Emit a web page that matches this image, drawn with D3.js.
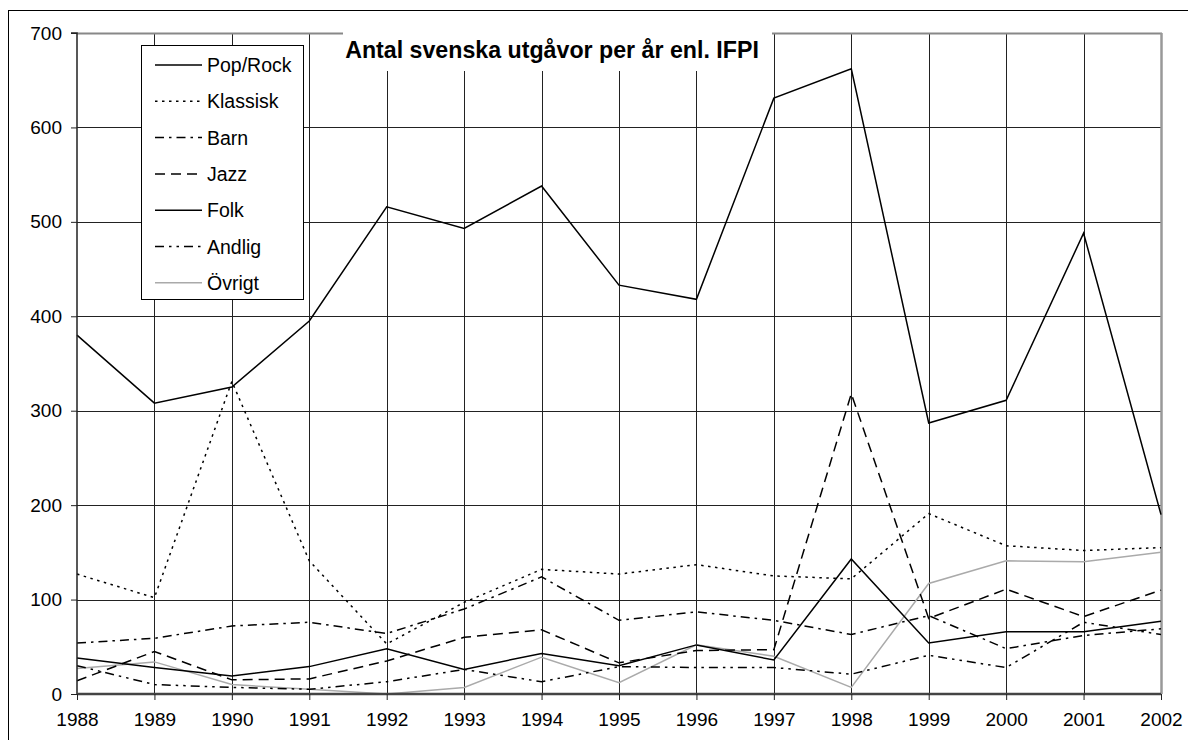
<!DOCTYPE html>
<html><head><meta charset="utf-8">
<script src="https://cdn.jsdelivr.net/npm/d3@7"></script>
<style>body{margin:0;background:#fff}svg{display:block}text{font-family:"Liberation Sans",Arial,sans-serif}</style>
</head><body>
<svg id="c" width="1188" height="740"></svg>
<script>
const years = [1988,1989,1990,1991,1992,1993,1994,1995,1996,1997,1998,1999,2000,2001,2002];
const popRock  = [380,308,325,395,516,493,538,433,418,631,662,287,311,488,190];
const klassisk = [127,102,331,141,53,97,132,127,137,125,122,191,157,152,155];
const barn     = [54,59,72,76,64,90,124,78,87,78,63,83,48,62,69];
const jazz     = [14,45,15,16,35,60,68,33,46,47,318,80,111,82,110];
const folk     = [38,28,19,29,48,26,43,30,52,36,143,54,66,66,77];
const andlig   = [30,10,7,5,13,26,13,29,28,28,21,41,28,76,63];
const ovrigt   = [27,34,10,5,0,7,39,12,52,40,7,117,141,140,150];
const seriesNames = ["Pop/Rock","Klassisk","Barn","Jazz","Folk","Andlig","Övrigt"];
const yTicks = [0,100,200,300,400,500,600,700];
const title = "Antal svenska utgåvor per år enl. IFPI";

const seriesData = [popRock,klassisk,barn,jazz,folk,andlig,ovrigt];
const styles = [
  {stroke:"#000", dash:null, w:1.5},
  {stroke:"#000", dash:"2.5,4.5", w:1.5},
  {stroke:"#000", dash:"9,5,2.5,5", w:1.5},
  {stroke:"#000", dash:"10,6", w:1.5},
  {stroke:"#000", dash:null, w:1.5},
  {stroke:"#000", dash:"9,5,2.5,5,2.5,5", w:1.5},
  {stroke:"#aaa", dash:null, w:1.5}
];
const FONT = "Liberation Sans, Arial, sans-serif";

const svg = d3.select("#c");
const L=77, R=1161, T=33, B=694;
const x = d3.scaleLinear().domain([1988,2002]).range([L,R]);
const y = d3.scaleLinear().domain([0,700]).range([B,T]);

// outer frame
svg.append("rect").attr("x",8.5).attr("y",10.5).attr("width",1200).attr("height",800)
  .attr("fill","#fff").attr("stroke","#000").attr("stroke-width",1);

// gridlines
const g = svg.append("g");
g.selectAll("line.h").data(yTicks.filter(d=>d>0 && d<700)).join("line")
  .attr("x1",L).attr("x2",R).attr("y1",d=>Math.round(y(d))+0.5).attr("y2",d=>Math.round(y(d))+0.5)
  .attr("stroke","#222").attr("stroke-width",1);
g.selectAll("line.v").data(years.slice(1,-1)).join("line")
  .attr("x1",d=>Math.round(x(d))+0.5).attr("x2",d=>Math.round(x(d))+0.5).attr("y1",T).attr("y2",B)
  .attr("stroke","#222").attr("stroke-width",1);
// plot border top/right gray
svg.append("line").attr("x1",L).attr("x2",R+1).attr("y1",T+0.5).attr("y2",T+0.5).attr("stroke","#888").attr("stroke-width",2);
svg.append("line").attr("x1",R+0.5).attr("x2",R+0.5).attr("y1",T).attr("y2",B).attr("stroke","#999").attr("stroke-width",2.5);

// title box
svg.append("rect").attr("x",343).attr("y",28).attr("width",429).attr("height",43).attr("fill","#fff");
svg.append("text").attr("x",552).attr("y",58).attr("text-anchor","middle")
  .attr("font-size",23.2).attr("font-weight","bold").text(title);

// lines
const line = d3.line().x((d,i)=>x(years[i])).y(d=>y(d));
const order = [6,5,4,3,2,1,0];
order.forEach(k=>{
  svg.append("path").datum(seriesData[k]).attr("d",line)
    .attr("fill","none").attr("stroke",styles[k].stroke).attr("stroke-width",styles[k].w)
    .attr("stroke-dasharray",styles[k].dash).attr("stroke-linejoin","miter");
});

// axes
const yAxis = d3.axisLeft(y).tickValues(yTicks).tickSize(6).tickPadding(9);
const ya = svg.append("g").attr("transform",`translate(${L},0)`).call(yAxis);
ya.attr("font-size",19).attr("font-family",FONT);
ya.select(".domain").attr("stroke","#222").attr("stroke-width",1.5).attr("d",`M-6,${T}H0V${B}`);
ya.selectAll("text").attr("fill","#000");
ya.selectAll(".tick line").attr("stroke","#222");

const xAxis = d3.axisBottom(x).tickValues(years).tickFormat(d3.format("d")).tickSize(6).tickPadding(13);
const xa = svg.append("g").attr("transform",`translate(0,${B})`).call(xAxis);
xa.attr("font-size",19).attr("font-family",FONT);
xa.select(".domain").attr("stroke","#444").attr("stroke-width",2.5).attr("d",`M${L},0H${R}`);
xa.selectAll("text").attr("fill","#000");
xa.selectAll(".tick line").attr("stroke","#222");

// legend
const lg = svg.append("g");
lg.append("rect").attr("x",141.5).attr("y",45.5).attr("width",162).attr("height",254)
  .attr("fill","#fff").attr("stroke","#000").attr("stroke-width",1);
seriesNames.forEach((n,i)=>{
  const yy = 65 + i*36.3;
  lg.append("line").attr("x1",155).attr("x2",202).attr("y1",yy).attr("y2",yy)
    .attr("stroke",styles[i].stroke).attr("stroke-width",styles[i].w).attr("stroke-dasharray",styles[i].dash);
  lg.append("text").attr("x",207).attr("y",yy+7).attr("font-size",19.5).text(n);
});
</script>
</body></html>
